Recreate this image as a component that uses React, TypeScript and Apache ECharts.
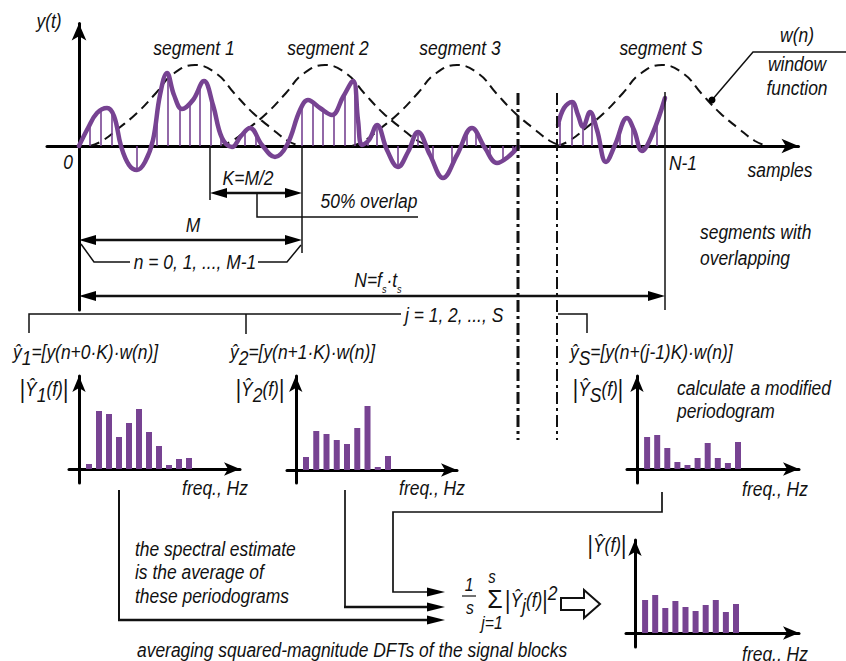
import React, { useEffect, useRef } from 'react';
import * as echarts from 'echarts';

const PURPLE = '#774392';
const INK = '#111111';
const FF = '"Liberation Sans", Arial, sans-serif';
const SX = 0.83; // condensed look of the lettering

// ---- Top signal y(t): x in sample units, y amplitude ----
const signalX = [0, 0.9, 1.8, 2.8, 3.5, 4.2, 5.0, 5.8, 6.6, 7.4, 8.1, 8.8, 9.5, 10.3, 11.4, 12.5, 13.4, 14.3, 15.3, 16.2, 17.1, 18.3, 19.6, 20.8, 22.1, 22.9, 24.1, 25.3, 26.4, 27.4, 27.9, 28.3, 29.0, 29.8, 30.8, 31.9, 32.9, 33.9, 35.1, 36.4, 37.8, 39.3, 40.6, 41.8, 42.9, 43.9];
const signalY = [0, 1.8, 3.3, 3.8, 3.0, 0, -1.9, -2.4, -1.6, 0.6, 5.1, 7.3, 5.1, 3.7, 4.6, 6.5, 4.1, 0.8, -0.1, 1.0, 1.8, 0.1, -1.1, 0.1, 3.6, 4.6, 3.8, 3.1, 4.9, 6.5, 2.6, 0.1, 0.6, 2.1, -0.4, -2.1, -0.6, 1.4, -0.9, -3.2, -0.9, 1.8, -0.2, -1.7, -1.1, -0.1];
const signalSX = [47.9, 48.5, 49.3, 49.9, 50.4, 51.1, 51.8, 52.7, 53.6, 54.8, 55.5, 56.3, 57.3, 58.6];
const signalSY = [2.1, 3.8, 4.4, 3.1, 1.9, 3.4, 1.6, -1.6, 0.1, 2.8, 1.6, -0.5, 1.1, 4.8];
const stemX = [1.1, 2.2, 3.3, 5.8, 7.8, 8.9, 10.1, 11.1, 12.1, 13.2, 14.2, 16.6, 17.7, 22.3, 23.4, 24.4, 25.5, 26.6, 27.6, 28.9, 29.8, 31.9, 33.9, 35.4, 37.3, 38.8, 39.7, 41.1, 42.4, 43.4, 48.1, 49.3, 50.4, 51.3, 52.1, 54.1, 55.3, 56.4, 57.8];
const stemY = [1.9, 3.6, 3.2, -2.4, 3.0, 7.2, 3.8, 4.3, 6.2, 4.8, 1.0, 1.3, 1.2, 3.8, 4.5, 3.7, 3.2, 5.1, 5.6, 0.5, 2.1, -2.1, 1.4, -1.5, -2.2, 1.3, 1.5, -0.8, -1.5, -0.7, 2.3, 4.4, 1.9, 3.2, 0.9, 1.8, 2.0, -0.4, 2.0];
// window function w(n) shape, drawn at each segment centre
const windowOffset = [-10.5, -9.3, -7.6, -5.8, -3.9, -2.2, 0, 2.2, 3.9, 5.8, 7.6, 9.3, 10.5];
const windowShape = [0, 0.5, 1.8, 3.3, 5.3, 7.2, 8.1, 7.2, 5.3, 3.3, 1.8, 0.5, 0];
const windowCenter = [11.6, 24.6, 37.8, 58.3];

// ---- Periodograms ----
const bins1 = [1, 2, 3, 4, 5, 6, 7, 8, 9, 10, 11];
const spec1 = [0.5, 5.8, 5.5, 3.2, 4.6, 6.0, 3.7, 2.3, 0.4, 1.0, 1.1];
const bins2 = [1, 2, 3, 4, 5, 6, 7, 8, 9];
const spec2 = [1.3, 3.9, 3.6, 3.0, 2.6, 4.2, 6.4, 0.3, 1.4];
const binsS = [1, 2, 3, 4, 5, 6, 7, 8, 9, 10];
const specS = [3.2, 3.4, 2.1, 0.7, 0.4, 1.1, 2.6, 1.1, 0.6, 2.7];
const binsAvg = [1, 2, 3, 4, 5, 6, 7, 8, 9, 10];
const specAvg = [3.3, 3.8, 2.5, 3.2, 2.6, 2.2, 2.8, 3.3, 2.1, 2.9];

const zip = (xs: number[], ys: number[]) => xs.map((x, i) => [x, ys[i]]);

const font = (size: number, style = 'italic') => `${style} ${size}px ${FF}`;

const rich = (size = 21) => ({
  m: { font: font(size), fill: INK, lineHeight: 26 },
  sub: { font: font(size), fill: INK, height: 14, verticalAlign: 'bottom' },
  sup: { font: font(size), fill: INK, height: 12, verticalAlign: 'top' },
  ss: { font: font(11), fill: INK, height: 8, verticalAlign: 'bottom' },
  big: { font: `normal 25px ${FF}`, fill: INK, lineHeight: 26 },
});

const txt = (text: string, x: number, y: number, align = 'center', size = 21, extra: any = {}) => ({
  type: 'text', x, y, scaleX: SX, silent: true, z: 10,
  style: { text, fill: INK, font: font(size), textAlign: align, align, textVerticalAlign: 'middle', verticalAlign: 'middle', ...extra },
});
const rtxt = (text: string, x: number, y: number, align = 'left', size = 21) => ({
  type: 'text', x, y, scaleX: SX, silent: true, z: 10,
  style: { text, fill: INK, font: font(size), textAlign: align, align, textVerticalAlign: 'middle', verticalAlign: 'middle', rich: rich(size) },
});
const ln = (x1: number, y1: number, x2: number, y2: number, w = 1.5, extra: any = {}) => ({
  type: 'line', silent: true, z: 9, shape: { x1, y1, x2, y2 }, style: { stroke: INK, lineWidth: w, ...extra },
});
const pl = (points: number[][], w = 1.5) => ({
  type: 'polyline', silent: true, z: 9, shape: { points }, style: { stroke: INK, lineWidth: w, fill: null },
});
const head = (x: number, y: number, dir: string, len = 17, hw = 5) => ({
  type: 'polygon', silent: true, z: 9,
  shape: {
    points: dir === 'r'
      ? [[x, y], [x - len, y - hw], [x - len, y + hw]]
      : [[x, y], [x + len, y - hw], [x + len, y + hw]],
  },
  style: { fill: '#000' },
});

const dashDot = [12, 4, 3, 4];

const graphics: any[] = [
  // top labels
  txt('y(t)', 49, 21),
  txt('segment 1', 194, 48),
  txt('segment 2', 328, 48),
  txt('segment 3', 460, 48),
  txt('segment S', 661, 48),
  txt('w(n)', 797, 35),
  txt('window', 797, 64),
  txt('function', 797, 88),
  pl([[846, 52], [753, 52], [712, 100]], 1.5),
  { type: 'circle', silent: true, z: 9, shape: { cx: 712, cy: 100, r: 3.5 }, style: { fill: '#000' } },
  txt('0', 68, 162),
  txt('N-1', 683, 163),
  txt('samples', 780, 170),
  // dash-dot gap marks
  ln(518, 93, 518, 440, 3, { lineDash: dashDot }),
  ln(557, 93, 557, 440, 2, { lineDash: dashDot }),
  // N-1 marker
  ln(665, 92, 665, 310, 1.5),
  // K = M/2
  ln(210, 146, 210, 200, 1.5),
  ln(302, 146, 302, 253, 1.5),
  ln(224, 193, 288, 193, 2.5),
  head(210, 193, 'l'),
  head(302, 193, 'r'),
  txt('K=M/2', 248, 178),
  pl([[257, 193], [257, 217], [418, 217]], 1.5),
  txt('50% overlap', 369, 201),
  // M
  txt('M', 193, 225),
  ln(92, 240, 290, 240, 2.5),
  head(79, 240, 'l'),
  head(302, 240, 'r'),
  pl([[81, 244], [94, 262], [130, 262]], 1.5),
  pl([[258, 262], [287, 262], [301, 245]], 1.5),
  txt('n = 0, 1, ..., M-1', 195, 262),
  // N
  rtxt('{m|N=f}{ss|s}{m|·t}{ss|s}', 378, 280, 'center'),
  ln(92, 296, 652, 296, 2.5),
  head(79, 296, 'l'),
  head(665, 296, 'r'),
  txt('segments with', 700, 232, 'left'),
  txt('overlapping', 700, 258, 'left'),
  // j bracket
  pl([[29, 333], [29, 314], [401, 314]], 1.5),
  ln(246, 314, 246, 334, 1.5),
  txt('j = 1, 2, ..., S', 405, 315, 'left'),
  pl([[558, 314], [587, 314], [587, 333]], 1.5),
  // formulas
  rtxt('{m|ŷ}{sub|1}{m|=[y(n+0·K)·w(n)]}', 13, 352),
  rtxt('{m|ŷ}{sub|2}{m|=[y(n+1·K)·w(n)]}', 230, 352),
  rtxt('{m|ŷ}{sub|S}{m|=[y(n+(j-1)K)·w(n)]}', 570, 352),
  // periodogram labels
  rtxt('{big||}{m|Ŷ}{sub|1}{m|(f)}{big||}', 44, 389, 'center'),
  rtxt('{big||}{m|Ŷ}{sub|2}{m|(f)}{big||}', 260, 389, 'center'),
  rtxt('{big||}{m|Ŷ}{sub|S}{m|(f)}{big||}', 598, 389, 'center'),
  rtxt('{big||}{m|Ŷ(f)}{big||}', 607, 545, 'center'),
  txt('freq., Hz', 215, 488),
  txt('freq., Hz', 432, 488),
  txt('freq., Hz', 775, 489),
  txt('freq., Hz', 775, 654),
  txt('calculate a modified', 677, 388, 'left'),
  txt('periodogram', 677, 411, 'left'),
  // bottom connectors
  ln(119, 490, 119, 620, 2),
  ln(118, 620, 430, 620, 2.6),
  head(445, 620, 'r', 18, 4.5),
  ln(345, 490, 345, 607, 1.7),
  ln(344, 607, 430, 607, 2.6),
  head(445, 607, 'r', 18, 4.5),
  pl([[662, 492], [662, 512], [393, 512], [393, 592], [430, 592]], 1.7),
  head(445, 592, 'r', 18, 4.5),
  txt('the spectral estimate', 135, 549, 'left'),
  txt('is the average of', 135, 572, 'left'),
  txt('these periodograms', 135, 596, 'left'),
  txt('averaging squared-magnitude DFTs of the signal blocks', 137, 650, 'left'),
  // averaging formula
  txt('1', 469, 584, 'center', 19),
  ln(462, 596, 476, 596, 1.2),
  txt('s', 470, 607, 'center', 19),
  { type: 'text', x: 495, y: 599, silent: true, z: 10, style: { text: 'Σ', fill: INK, font: `normal 25px ${FF}`, textAlign: 'center', align: 'center', textVerticalAlign: 'middle', verticalAlign: 'middle' } },
  txt('s', 492, 577, 'center', 18),
  txt('j=1', 492, 622, 'center', 19),
  rtxt('{big||}{m|Ŷ}{sub|j}{m|(f)}{big||}{sup|2}', 505, 600),
  {
    type: 'polygon', silent: true, z: 9,
    shape: { points: [[561, 598], [584, 598], [584, 590], [600, 604], [584, 618], [584, 610], [561, 610]] },
    style: { fill: '#fff', stroke: INK, lineWidth: 2 },
  },
];

const axisCommon = {
  type: 'value',
  axisTick: { show: false },
  axisLabel: { show: false },
  splitLine: { show: false },
};
const axLine = (size: number[]) => ({
  show: true, onZero: true, symbol: ['none', 'arrow'], symbolSize: size,
  lineStyle: { color: '#000', width: 3 },
});

const App: React.FC = () => {
  const ref = useRef<HTMLDivElement>(null);
  useEffect(() => {
    if (!ref.current) return;
    const chart = echarts.init(ref.current, null, { renderer: 'svg' });
    const barSeries = (idx: number, bins: number[], vals: number[]) => ({
      type: 'bar', xAxisIndex: idx, yAxisIndex: idx, data: zip(bins, vals), barWidth: 6,
      itemStyle: { color: PURPLE }, z: 3, silent: true,
    });
    const option: any = {
      animation: false,
      backgroundColor: '#ffffff',
      grid: [
        { left: 47, top: 23.5, width: 751.5, height: 286.5, outerBoundsMode: 'none' },
        { left: 69, top: 376, width: 171, height: 107, outerBoundsMode: 'none' },
        { left: 287, top: 376, width: 170, height: 107, outerBoundsMode: 'none' },
        { left: 627, top: 376, width: 172, height: 107, outerBoundsMode: 'none' },
        { left: 626, top: 540, width: 173, height: 107, outerBoundsMode: 'none' },
      ],
      xAxis: [
        { ...axisCommon, gridIndex: 0, min: -3.2, max: 71.95, axisLine: axLine([11, 17]) },
        { ...axisCommon, gridIndex: 1, min: -1, max: 16.1, axisLine: axLine([10, 16]) },
        { ...axisCommon, gridIndex: 2, min: -0.854, max: 15.73, axisLine: axLine([10, 16]) },
        { ...axisCommon, gridIndex: 3, min: -0.99, max: 16.04, axisLine: axLine([10, 16]) },
        { ...axisCommon, gridIndex: 4, min: -0.891, max: 16.24, axisLine: axLine([10, 16]) },
      ],
      yAxis: [
        { ...axisCommon, gridIndex: 0, min: -16.4, max: 12.25, axisLine: axLine([11, 17]) },
        { ...axisCommon, gridIndex: 1, min: -1.4, max: 9.3, axisLine: axLine([10, 16]) },
        { ...axisCommon, gridIndex: 2, min: -1.3, max: 9.4, axisLine: axLine([10, 16]) },
        { ...axisCommon, gridIndex: 3, min: -1.4, max: 9.3, axisLine: axLine([10, 16]) },
        { ...axisCommon, gridIndex: 4, min: -1.4, max: 9.3, axisLine: axLine([10, 16]) },
      ],
      series: [
        ...windowCenter.map((c) => ({
          type: 'line', xAxisIndex: 0, yAxisIndex: 0, silent: true,
          data: windowOffset.map((o, i) => [c + o, windowShape[i]]),
          smooth: 0.45, symbol: 'none', showSymbol: false, z: 2,
          lineStyle: { color: INK, width: 2, type: [10, 6] },
        })),
        {
          type: 'custom', xAxisIndex: 0, yAxisIndex: 0, silent: true, z: 3,
          data: zip(stemX, stemY),
          renderItem: (_p: any, api: any) => {
            const a = api.coord([api.value(0), 0]);
            const b = api.coord([api.value(0), api.value(1)]);
            return { type: 'line', shape: { x1: a[0], y1: a[1], x2: b[0], y2: b[1] }, style: { stroke: PURPLE, lineWidth: 1.6 } };
          },
        },
        {
          type: 'line', xAxisIndex: 0, yAxisIndex: 0, silent: true, z: 4,
          data: zip(signalX, signalY), smooth: 0.4, symbol: 'none', showSymbol: false,
          lineStyle: { color: PURPLE, width: 4.5, cap: 'round', join: 'round' },
        },
        {
          type: 'line', xAxisIndex: 0, yAxisIndex: 0, silent: true, z: 4,
          data: zip(signalSX, signalSY), smooth: 0.4, symbol: 'none', showSymbol: false,
          lineStyle: { color: PURPLE, width: 4.5, cap: 'round', join: 'round' },
        },
        barSeries(1, bins1, spec1),
        barSeries(2, bins2, spec2),
        barSeries(3, binsS, specS),
        barSeries(4, binsAvg, specAvg),
      ],
      graphic: graphics,
    };
    chart.setOption(option);
    return () => chart.dispose();
  }, []);
  return <div ref={ref} style={{ position: 'fixed', left: 0, top: 0, width: 846, height: 661 }} />;
};

export default App;
